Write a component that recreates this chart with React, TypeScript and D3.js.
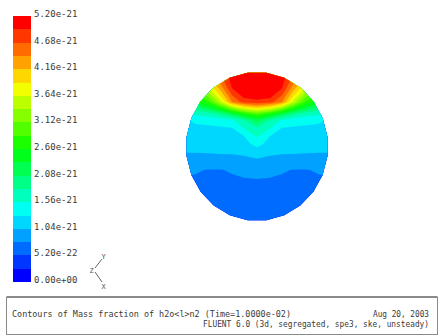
import React from "react";
import * as d3 from "d3";

// Contour levels of the mass fraction, in units of 1e-21
const levelStep = 0.26;
const levelCount = 20;
const legendTicks = [0, 0.52, 1.04, 1.56, 2.08, 2.6, 3.12, 3.64, 4.16, 4.68, 5.2];
const legendTickLabels = [
  "0.00e+00", "5.20e-22", "1.04e-21", "1.56e-21", "2.08e-21", "2.60e-21",
  "3.12e-21", "3.64e-21", "4.16e-21", "4.68e-21", "5.20e-21",
];

// Sampling stations across the section (mm, section radius 50 mm)
const gridXmm = [-51.4, -43, -34.5, -26.1, -17.6, -9.2, 0, 9.2, 17.6, 26.1, 34.5, 43, 51.4];
const gridYmm = [54, 46, 39.3, 33.9, 29.9, 25.8, 21.8, 17.8, 12.4, 7, 1.7, -3.7, -10.4, -15.8, -22.5, -35.9, -53.4];

// Mass fraction of h2o<l>n2 at the stations (1e-21), rows from top to bottom
const massFraction = [
  [3.46, 3.90, 4.45, 4.87, 5.20, 5.33, 5.33, 5.33, 5.20, 4.87, 4.45, 3.90, 3.46],
  [3.12, 3.52, 4.01, 4.58, 5.06, 5.23, 5.25, 5.23, 5.06, 4.58, 4.01, 3.52, 3.12],
  [2.83, 3.13, 3.64, 4.25, 4.95, 5.15, 5.15, 5.15, 4.95, 4.25, 3.64, 3.13, 2.83],
  [2.60, 2.82, 3.15, 3.87, 4.65, 5.02, 5.02, 5.02, 4.65, 3.87, 3.15, 2.82, 2.60],
  [2.17, 2.55, 2.78, 3.48, 4.42, 4.79, 4.89, 4.79, 4.42, 3.48, 2.78, 2.55, 2.17],
  [1.78, 1.97, 2.26, 2.67, 3.28, 3.74, 3.95, 3.74, 3.28, 2.67, 2.26, 1.97, 1.78],
  [1.51, 1.62, 1.68, 1.87, 2.23, 2.64, 2.94, 2.64, 2.23, 1.87, 1.68, 1.62, 1.51],
  [1.28, 1.35, 1.39, 1.44, 1.52, 1.81, 2.26, 1.81, 1.52, 1.44, 1.39, 1.35, 1.28],
  [1.22, 1.25, 1.25, 1.27, 1.29, 1.58, 1.77, 1.58, 1.29, 1.27, 1.25, 1.25, 1.22],
  [1.17, 1.18, 1.19, 1.20, 1.21, 1.30, 1.60, 1.30, 1.21, 1.20, 1.19, 1.18, 1.17],
  [1.11, 1.12, 1.12, 1.13, 1.14, 1.20, 1.39, 1.20, 1.14, 1.13, 1.12, 1.12, 1.11],
  [1.05, 1.05, 1.06, 1.07, 1.07, 1.09, 1.17, 1.09, 1.07, 1.07, 1.06, 1.05, 1.05],
  [0.93, 0.92, 0.90, 0.91, 0.93, 0.96, 0.98, 0.96, 0.93, 0.91, 0.90, 0.92, 0.93],
  [0.83, 0.80, 0.77, 0.77, 0.80, 0.85, 0.88, 0.85, 0.80, 0.77, 0.77, 0.80, 0.83],
  [0.76, 0.75, 0.74, 0.74, 0.75, 0.76, 0.77, 0.76, 0.75, 0.74, 0.74, 0.75, 0.76],
  [0.69, 0.69, 0.69, 0.69, 0.69, 0.69, 0.70, 0.69, 0.69, 0.69, 0.69, 0.69, 0.69],
  [0.60, 0.60, 0.60, 0.60, 0.60, 0.60, 0.60, 0.60, 0.60, 0.60, 0.60, 0.60, 0.60],
];

const titleText = "Contours of Mass fraction of h2o<l>n2  (Time=1.0000e-02)";
const dateText = "Aug 20, 2003";
const solverText = "FLUENT 6.0 (3d, segregated, spe3, ske, unsteady)";

const sectionRadius = 50;
const outlineSides = 24;

// Fluent-style blue-to-red colormap, one colour per level band
function bandColor(i: number): string {
  const hue = 240 * (1 - i / (levelCount - 1));
  return d3.hsl(hue, 1, 0.5).formatHex();
}

const monoFont = "'DejaVu Sans Mono', 'Liberation Mono', monospace";

export default function App() {
  const W = 440;
  const H = 336;

  // section (mm) -> screen
  const xPx = d3.scaleLinear().domain([-sectionRadius, sectionRadius]).range([186, 328]);
  const yPx = d3.scaleLinear().domain([sectionRadius, -sectionRadius]).range([72, 221]);

  // contour grid coordinates -> section (mm); sample i sits at i + 0.5
  const gx = d3.scaleLinear().domain(gridXmm.map((_, i) => i + 0.5)).range(gridXmm);
  const gy = d3.scaleLinear().domain(gridYmm.map((_, i) => i + 0.5)).range(gridYmm);

  const thresholds = d3.range(levelCount).map((i) => +(i * levelStep).toFixed(2));
  const contourSets = d3
    .contours()
    .size([gridXmm.length, gridYmm.length])
    .thresholds(thresholds)(massFraction.flat());

  const toScreen = d3.geoTransform({
    point(this: any, x: number, y: number) {
      this.stream.point(xPx(gx(x)), yPx(gy(y)));
    },
  });
  const contourPath = d3.geoPath(toScreen);

  const outline = d3.range(outlineSides).map((k) => {
    const a = ((k + 0.5) / outlineSides) * 2 * Math.PI;
    return [xPx(sectionRadius * Math.cos(a)), yPx(sectionRadius * Math.sin(a))] as [number, number];
  });
  const outlinePath = d3.line()(outline) + "Z";

  // colour bar
  const legendY = d3.scaleLinear().domain([0, levelStep * levelCount]).range([282, 16]);
  const legendX0 = 13;
  const legendX1 = 31;

  return (
    <svg
      width={W}
      height={H}
      viewBox={`0 0 ${W} ${H}`}
      style={{ position: "absolute", left: 0, top: 0, background: "#fff" }}
    >
      <rect x={0} y={0} width={W} height={H} fill="#fff" />

      {/* colour bar */}
      <g>
        {thresholds.map((t, i) => (
          <rect
            key={i}
            x={legendX0}
            y={legendY(t + levelStep)}
            width={legendX1 - legendX0}
            height={legendY(t) - legendY(t + levelStep)}
            fill={bandColor(i)}
            shapeRendering="crispEdges"
          />
        ))}
        {legendTicks.map((v, i) => (
          <text
            key={i}
            x={34}
            y={legendY(v) + 1}
            fontFamily={monoFont}
            fontSize={9}
            fill="#3a3a3a"
          >
            {legendTickLabels[i]}
          </text>
        ))}
      </g>

      {/* filled contours on the section */}
      <defs>
        <clipPath id="section-clip">
          <path d={outlinePath} />
        </clipPath>
      </defs>
      <g clipPath="url(#section-clip)">
        {contourSets.map((c, i) => (
          <path key={i} d={contourPath(c as any) || ""} fill={bandColor(i)} stroke="none" />
        ))}
      </g>

      {/* axis triad */}
      <g stroke="#666" strokeWidth={1} fill="none">
        <line x1={95} y1={268} x2={102} y2={259} />
        <line x1={95} y1={272} x2={102} y2={282} />
      </g>
      <g fontFamily={monoFont} fontSize={7} fill="#555">
        <text x={101.5} y={259}>Y</text>
        <text x={101.5} y={289}>X</text>
        <text x={89.5} y={273}>Z</text>
      </g>

      {/* caption box */}
      <rect x={6.5} y={297.5} width={431} height={37} fill="none" stroke="#8a8a8a" strokeWidth={1} />
      <line x1={6.5} y1={297} x2={437.5} y2={297} stroke="#8a8a8a" strokeWidth={2} />
      <g fontFamily={monoFont} fontSize={8} fill="#3a3a3a">
        <text x={12} y={317} textLength={279} lengthAdjust="spacingAndGlyphs">
          {titleText}
        </text>
        <text x={373} y={317} textLength={56} lengthAdjust="spacingAndGlyphs">
          {dateText}
        </text>
        <text x={203} y={327} textLength={226} lengthAdjust="spacingAndGlyphs">
          {solverText}
        </text>
      </g>
    </svg>
  );
}
